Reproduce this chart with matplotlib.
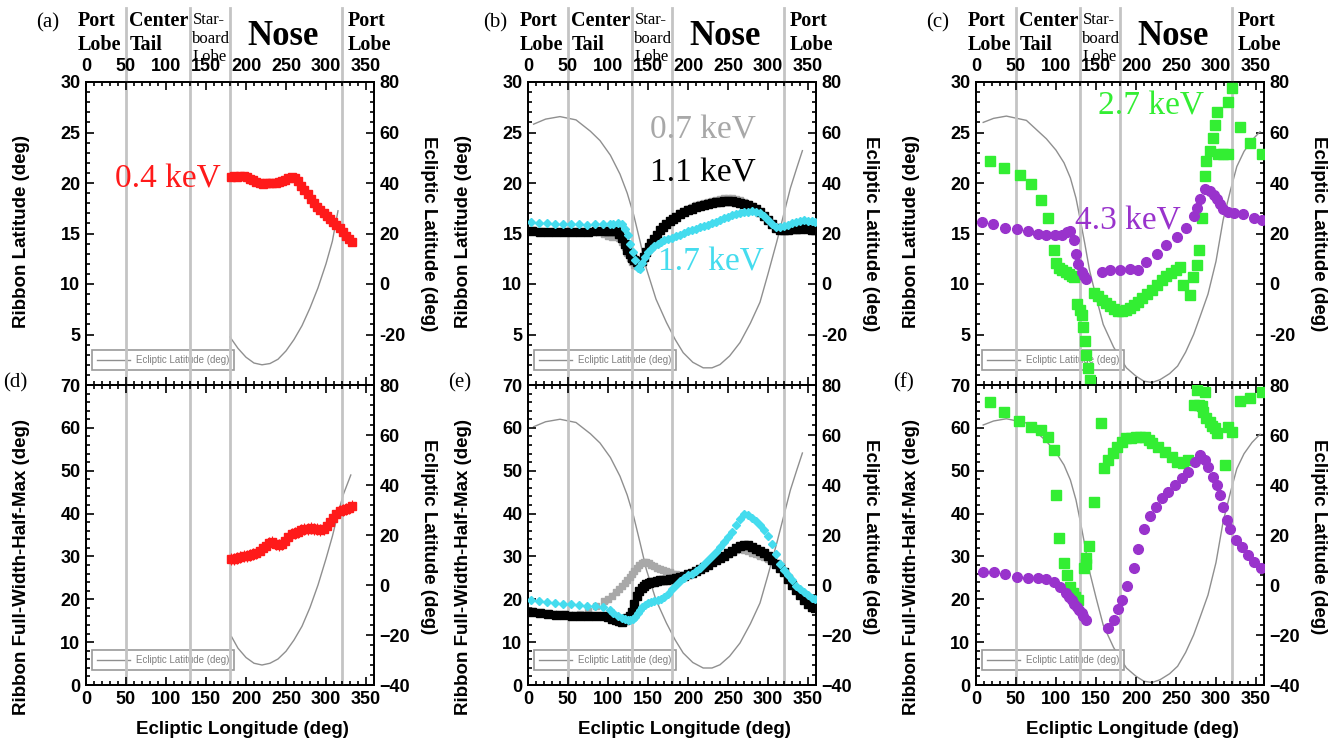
import matplotlib
matplotlib.use("Agg")
import matplotlib.pyplot as plt
from matplotlib.ticker import MultipleLocator, FuncFormatter

plt.rcParams['font.family'] = 'Liberation Sans'
plt.rcParams['font.weight'] = 'bold'

W, H = 1338, 743

# region boundaries in ecliptic longitude (deg)
boundaries = [50, 130, 180, 320]

# ecliptic latitude of the ribbon centre (right axis)
ecl_lon_a = [180, 190, 200, 210, 220, 230, 240, 250, 260, 270, 280, 290, 300, 308, 315]
ecl_lat_a = [-21, -25.5, -29, -31.3, -32, -31.5, -29.8, -26.5, -22, -16.5, -9.5, -1.5, 8, 17, 29]
ecl_lon_d = [182, 190, 200, 210, 220, 230, 240, 250, 260, 270, 280, 290, 300, 308, 315, 322, 331]
ecl_lat_d = [-20.7, -25.3, -29, -31.3, -32, -31.3, -29.6, -26.5, -22, -16.5, -9, 0, 10.5, 19.5, 28.7, 36.5, 44]
ecl_lon_b = [7, 22, 40, 60, 78, 90, 103, 115, 124, 132, 140, 148, 160, 173, 184, 194, 206, 219,
             230, 240, 252, 265, 278, 290, 300, 311, 320, 328, 336, 343]
ecl_lat_b = [63.3, 65.3, 66.3, 65.0, 60.5, 56.8, 51, 43.5, 36, 27.5, 17, 6.1, -6, -15.2, -22, -27.2,
             -31, -33.2, -33.2, -31.9, -28.5, -23.2, -15.5, -7.2, 4, 16.8, 28, 38, 46, 52.8]
ecl_lon_c = [9, 22, 38, 63, 88, 100, 110, 118, 125, 130, 136, 142, 150, 159, 172, 188, 200, 210,
             220, 230, 242, 252, 262, 272, 280, 290, 300, 309, 318, 326, 335, 345, 355]
ecl_lat_c = [64, 65.6, 66.5, 64.8, 57.5, 53, 48, 42, 34, 26, 16, 5.3, -5, -16, -25, -33.2, -36.5,
             -38.5, -39, -37.9, -35.5, -32.5, -27, -20, -13, -4, 9, 25.5, 37, 46.5, 52.5, 57, 60.3]

# 0.4 keV
lon_04 = [181, 185, 189, 193, 197, 201, 205, 209, 213, 217, 221, 225, 229, 233, 237, 241, 245, 249,
          253, 257, 261, 265, 269, 273, 277, 281, 285, 289, 293, 297, 301, 305, 309, 313, 317, 321,
          325, 329, 333]
lat_04 = [20.6, 20.7, 20.6, 20.7, 20.7, 20.6, 20.4, 20.3, 20.1, 20.0, 19.9, 20.0, 20.0, 20.0, 20.0,
          20.1, 20.2, 20.3, 20.5, 20.6, 20.5, 20.2, 19.7, 19.3, 18.9, 18.4, 18.0, 17.6, 17.3, 17.0,
          16.7, 16.4, 16.1, 15.8, 15.5, 15.1, 14.8, 14.5, 14.2]
fw_04 = [29.3, 29.4, 29.6, 29.9, 30.0, 30.1, 30.3, 30.6, 30.8, 31.3, 31.9, 32.5, 33.1, 33.3, 33.0,
         32.7, 32.9, 33.6, 34.5, 35.2, 35.5, 35.8, 36.1, 36.3, 36.5, 36.6, 36.5, 36.3, 36.2, 36.4,
         37.2, 38.1, 39.0, 39.9, 40.5, 40.8, 41.0, 41.4, 41.8]

# 0.7 and 1.1 keV
lon_11 = [5, 15, 25, 35, 45, 55, 65, 75, 85, 95, 100, 105, 110, 114, 118, 121, 124, 127, 130,
          133, 136, 139, 142, 145, 148, 151, 154, 157, 161, 165, 169, 173, 177, 181, 185, 190, 195,
          200, 205, 210, 215, 220, 225, 230, 235, 240, 245, 250, 255, 260, 265, 270, 275, 280, 285,
          290, 295, 300, 305, 310, 315, 320, 325, 330, 335, 340, 345, 350, 355, 359]
lat_11 = [15.2, 15.15, 15.1, 15.1, 15.1, 15.1, 15.1, 15.15, 15.2, 15.2, 15.2, 15.2, 15.2,
          15.0, 14.6, 14.0, 13.4, 13.0, 12.6, 12.4, 12.2, 12.1, 12.3, 12.7, 13.2, 13.7, 14.1, 14.5,
          14.9, 15.3, 15.6, 15.9, 16.2, 16.4, 16.6, 16.9, 17.1, 17.3, 17.45, 17.6, 17.7, 17.8, 17.9,
          18.0, 18.1, 18.15, 18.2, 18.2, 18.2, 18.15, 18.05, 17.95, 17.8, 17.65, 17.4, 17.1, 16.7,
          16.3, 15.9, 15.5, 15.35, 15.3, 15.35, 15.4, 15.4, 15.45, 15.5, 15.4, 15.3, 15.3]
lat_07 = [15.3, 15.2, 15.1, 15.1, 15.1, 15.1, 15.1, 15.1, 15.1, 15.0, 14.8, 14.7, 14.8,
          14.6, 14.2, 13.7, 13.1, 12.6, 12.2, 11.9, 11.8, 11.9, 12.2, 12.7, 13.2, 13.7, 14.1, 14.5,
          14.9, 15.3, 15.6, 15.9, 16.2, 16.4, 16.7, 17.0, 17.2, 17.4, 17.6, 17.8, 17.9, 18.0, 18.1,
          18.25, 18.35, 18.45, 18.5, 18.5, 18.5, 18.4, 18.3, 18.15, 17.95, 17.75, 17.45, 17.1, 16.7,
          16.3, 15.9, 15.5, 15.35, 15.3, 15.35, 15.4, 15.4, 15.45, 15.5, 15.4, 15.3, 15.3]
fw_11 = [17.1, 16.8, 16.6, 16.4, 16.3, 16.2, 16.1, 16.0, 16.0, 16.0, 15.8, 15.5, 15.2,
         14.9, 14.8, 15.2, 15.6, 16.0, 17.0, 19.0, 20.8, 21.9, 22.6, 23.2, 23.6, 23.9, 24.0, 24.1,
         24.3, 24.4, 24.5, 24.6, 24.7, 24.8, 25.0, 25.3, 25.5, 25.8, 26.1, 26.6, 27.1, 27.6, 28.1,
         28.6, 29.1, 29.6, 30.2, 30.7, 31.3, 32.0, 32.5, 32.7, 32.6, 32.2, 31.8, 31.3, 30.8, 30.0,
         29.2, 28.3, 27.3, 26.3, 24.8, 23.3, 22.1, 21.0, 19.9, 18.9, 18.2, 17.9]
fw_07 = [17.3, 17.0, 16.8, 16.6, 16.5, 16.4, 16.5, 17.2, 18.4, 19.6, 20.0, 20.8, 21.8,
         22.5, 23.2, 23.8, 24.5, 25.2, 25.8, 26.5, 27.3, 28.0, 28.4, 28.6, 28.7, 28.4, 28.0, 27.7,
         27.4, 27.1, 26.8, 26.5, 26.3, 26.0, 25.8, 25.6, 25.6, 25.8, 26.1, 26.6, 27.1, 27.6, 28.1,
         28.6, 29.1, 29.6, 30.1, 30.5, 31.0, 31.5, 31.8, 31.5, 31.3, 30.9, 30.5, 30.2, 29.8, 29.3,
         29.0, 28.2, 27.3, 26.3, 24.8, 23.3, 22.1, 21.0, 19.9, 18.9, 18.2, 17.9]

# 1.7 keV
lon_17 = [4, 14, 24, 34, 44, 54, 64, 74, 84, 94, 102, 106, 112, 117, 121, 125,
          128, 131, 134, 137, 140, 143, 146, 150, 154, 158, 162, 166, 170, 175, 180, 185, 190, 195,
          200, 205, 210, 215, 220, 225, 230, 235, 240, 245, 250, 255, 260, 265, 270, 275, 280, 285,
          290, 295, 300, 305, 310, 315, 320, 325, 330, 335, 340, 345, 350, 355, 359]
lat_17 = [16.1, 16.0, 16.0, 15.95, 15.9, 15.9, 15.9, 15.85, 15.9, 15.9, 15.95, 15.95, 16.0, 15.9,
          15.4, 14.9, 14.0, 13.2, 12.4, 11.6, 11.5, 12.1, 12.7, 13.2,
          13.5, 13.8, 14.0, 14.2, 14.35, 14.5, 14.6, 14.75, 14.9, 15.05, 15.2, 15.3, 15.45, 15.6,
          15.75, 15.85, 16.0, 16.15, 16.35, 16.5, 16.65, 16.8, 16.9, 17.0, 17.1, 17.15, 17.2, 17.15,
          17.0, 16.7, 16.3, 15.9, 15.65, 15.6, 15.7, 15.85, 16.0, 16.15, 16.25, 16.3, 16.25, 16.2, 16.15]
fw_17 = [19.9, 19.6, 19.3, 19.1, 18.9, 18.8, 18.6, 18.5, 18.5, 18.1, 17.6, 16.9, 16.2, 15.6,
         15.3, 15.2, 15.1, 15.3, 15.9, 16.8, 17.6, 18.2, 18.7, 19.1,
         19.4, 19.7, 19.9, 20.1, 20.5, 21.3, 22.3, 23.3, 24.2, 25.0, 25.6, 26.0, 26.6, 27.4, 28.3,
         29.2, 30.0, 31.0, 32.1, 33.3, 34.5, 35.8, 37.3, 38.8, 39.8, 39.6, 39.0, 38.3, 37.3, 36.2,
         34.8, 32.8, 30.6, 28.3, 26.8, 25.6, 24.4, 23.2, 22.4, 21.6, 20.9, 20.3, 20.0]

# 2.7 keV
lon_27_lat = [17, 35, 55, 69, 81, 90, 97, 100, 104, 108, 112, 116, 120, 123, 126, 130, 132, 134, 136,
              138, 140, 142, 147, 152, 157, 162, 167, 172, 177, 182, 187, 192, 197, 202, 208, 214,
              220, 226, 232, 238, 244, 250, 255, 259, 267, 271, 276, 279, 283, 286, 288, 292, 296,
              299, 301, 303, 309, 315, 315, 320, 330, 342, 358]
lat_27 = [22.2, 21.5, 20.8, 19.9, 18.3, 16.5, 13.4, 12.1, 11.6, 11.4, 11.2, 11.0, 10.8, 10.7, 8.0,
          7.4, 6.9, 5.7, 4.4, 3.0, 1.7, 0.5, 9.1, 8.8, 8.4, 8.1, 7.8, 7.5, 7.35, 7.3, 7.4, 7.6, 7.9,
          8.2, 8.6, 9.0, 9.4, 9.9, 10.35, 10.8, 11.1, 11.4, 11.7, 9.9, 8.9, 10.7, 11.9, 13.4, 16.5,
          20.7, 22.2, 23.2, 24.5, 25.7, 27.0, 22.9, 22.9, 22.9, 28.0, 29.4, 25.5, 24.0, 22.9]
lon_27_fw = [17, 35, 54, 69, 81, 90, 97, 100, 104, 110, 114, 118, 121, 124, 127, 135, 137, 138, 141,
             147, 156, 160, 165, 171, 176, 182, 188, 194, 200, 205, 211, 216, 220, 228, 236, 245, 251,
             259, 265, 272, 276, 279, 282, 284, 286, 288, 292, 295, 299, 301, 311, 315, 320, 330, 342, 358]
fw_27 = [66.0, 63.6, 61.6, 60.3, 59.5, 57.9, 54.8, 44.3, 34.4, 28.4, 25.7, 22.9, 21.5, 20.6, 19.8,
         27.2, 28.3, 29.6, 32.5, 42.6, 61.1, 50.6, 52.5, 54.1, 55.6, 56.8, 57.6, 57.6, 57.8, 57.9,
         57.9, 57.2, 56.4, 55.6, 54.4, 53.3, 52.1, 51.7, 52.5, 65.3, 68.8, 65.3, 65.0, 63.8, 68.4,
         62.2, 61.4, 60.5, 59.9, 58.7, 51.3, 60.3, 59.1, 66.3, 67.0, 68.3]

# 4.3 keV
lon_43_lat = [8, 21, 36, 51, 65, 78, 88, 99, 107, 114, 118, 122, 125, 128, 132, 135, 138, 157, 167,
              180, 192, 203, 213, 226, 238, 251, 263, 272, 276, 280, 286, 292, 297, 301, 305, 309,
              315, 322, 334, 347, 358]
lat_43 = [16.1, 15.9, 15.5, 15.4, 15.2, 15.0, 14.9, 14.9, 14.9, 15.1, 15.2, 14.4, 13.0, 12.0, 11.2,
          10.8, 10.5, 11.2, 11.4, 11.4, 11.5, 11.4, 12.2, 13.0, 13.9, 14.7, 15.5, 16.7, 17.5, 18.4,
          19.4, 19.2, 18.8, 18.4, 17.9, 17.4, 17.1, 17.0, 16.9, 16.5, 16.3]
lon_43_fw = [9, 22, 36, 51, 65, 78, 88, 97, 105, 113, 116, 120, 122, 126, 129, 132, 134, 138, 165,
             172, 178, 183, 189, 197, 203, 210, 218, 225, 232, 240, 249, 257, 265, 274, 280, 286,
             290, 296, 301, 305, 309, 314, 318, 325, 332, 340, 348, 356]
fw_43 = [26.4, 26.4, 25.8, 25.3, 25.0, 24.9, 24.7, 24.1, 22.9, 21.4, 20.6, 19.8, 19.0, 18.3, 17.4,
         16.7, 16.0, 15.2, 13.2, 15.2, 17.7, 19.8, 23.1, 27.2, 31.7, 36.3, 39.4, 41.5, 43.6, 45.1,
         46.7, 48.2, 49.8, 52.1, 53.7, 52.5, 50.9, 48.6, 46.7, 44.3, 41.6, 38.5, 36.3, 33.8, 32.3,
         30.3, 28.8, 27.2]

RED = '#ff1a1a'
GREY = '#a8a8a8'
CYAN = '#45dcee'
GREEN = '#33ee33'
PURPLE = '#9933cc'
LINE = '#8f8f8f'
VLINE = '#c4c4c4'

fig = plt.figure(figsize=(W / 100, H / 100), dpi=100)


def add_px_axes(left, top, width, height):
    return fig.add_axes([left / W, 1 - (top + height) / H, width / W, height / H])


def hide_value(v):
    return FuncFormatter(lambda x, pos: '' if abs(x - v) < 1e-6 else f'{x:g}')


def setup_panel(ax, top_row):
    ax2 = ax.twinx()
    ax.set_zorder(ax2.get_zorder() + 1)
    ax.patch.set_visible(False)
    ax.set_xlim(0, 360)
    ax.xaxis.set_major_locator(MultipleLocator(50))
    ax.xaxis.set_minor_locator(MultipleLocator(10))
    ax2.set_ylim(-40, 80)
    ax2.yaxis.set_major_locator(MultipleLocator(20))
    ax2.yaxis.set_minor_locator(MultipleLocator(4))
    if top_row:
        ax.set_ylim(0, 30)
        ax.yaxis.set_major_locator(MultipleLocator(5))
        ax.yaxis.set_minor_locator(MultipleLocator(1))
        ax.yaxis.set_major_formatter(hide_value(0))
        ax2.yaxis.set_major_formatter(hide_value(-40))
        ax.tick_params(axis='x', which='both', labeltop=True, labelbottom=False, pad=5)
    else:
        ax.set_ylim(0, 70)
        ax.yaxis.set_major_locator(MultipleLocator(10))
        ax.yaxis.set_minor_locator(MultipleLocator(2))
        ax.tick_params(axis='x', which='both', labeltop=False, labelbottom=True, pad=4)
    ax.tick_params(which='both', direction='in', top=True, bottom=True, left=True, right=False,
                   labelsize=13, width=1.2)
    ax.tick_params(axis='y', pad=4)
    ax.tick_params(which='major', length=6)
    ax.tick_params(which='minor', length=3)
    ax2.tick_params(which='both', direction='in', labelsize=13, width=1.2, pad=4)
    ax2.tick_params(which='major', length=6)
    ax2.tick_params(which='minor', length=3)
    for a in (ax, ax2):
        for s in a.spines.values():
            s.set_linewidth(1.3)
    for b in boundaries:
        if top_row:
            ax.axvline(b, ymin=0, ymax=1.245, color=VLINE, lw=2, zorder=0, clip_on=False)
        else:
            ax.axvline(b, color=VLINE, lw=2, zorder=0)
    return ax2


def ecliptic(ax2, lon, lat):
    ax2.plot(lon, lat, color=LINE, lw=1, label='Ecliptic Latitude (deg)')
    leg = ax2.legend(loc='lower left', bbox_to_anchor=(0.021, 0.05), borderaxespad=0,
                     prop=dict(family='Liberation Sans', size=7, weight='normal'),
                     fancybox=False, edgecolor='#999999', framealpha=1, handlelength=3.4,
                     handletextpad=0.6, borderpad=0.5, labelcolor='#808080')
    leg.get_frame().set_linewidth(1.2)


def series(ax, lon, val, color, marker, ms, err):
    ax.errorbar(lon, val, yerr=err, fmt=marker, ms=ms, color=color, mec=color,
                ecolor=color, elinewidth=0.8, capsize=0, zorder=3)


def region_labels(ax):
    tr = ax.get_xaxis_transform()
    serif = 'Liberation Serif'
    ax.text(-10, 1.162, 'Port\nLobe', transform=tr, ha='left', va='center', family=serif,
            fontsize=14.5, fontweight='bold', linespacing=1.25)
    ax.text(54, 1.162, 'Center\nTail', transform=tr, ha='left', va='center', family=serif,
            fontsize=14.5, fontweight='bold', linespacing=1.25)
    ax.text(133, 1.143, 'Star-\nboard\nLobe', transform=tr, ha='left', va='center', family=serif,
            fontsize=12, fontweight='normal', linespacing=1.2)
    ax.text(246, 1.122, 'Nose', transform=tr, ha='center', va='baseline', family=serif,
            fontsize=25, fontweight='bold')
    ax.text(327, 1.162, 'Port\nLobe', transform=tr, ha='left', va='center', family=serif,
            fontsize=14.5, fontweight='bold', linespacing=1.25)


def fig_text(x, y, s, **kw):
    fig.text(x / W, 1 - y / H, s, **kw)


lefts = [86, 528, 976]
axes_top, axes_bot = [], []
for i, left in enumerate(lefts):
    at = add_px_axes(left, 82, 288, 303)
    ab = add_px_axes(left, 385, 288, 300)
    at2 = setup_panel(at, True)
    ab2 = setup_panel(ab, False)
    region_labels(at)
    axes_top.append((at, at2))
    axes_bot.append((ab, ab2))
    fig_text(left - 64, 232, 'Ribbon Latitude (deg)', rotation=90, ha='center', va='center',
             fontsize=13.5)
    fig_text(left + 343, 234, 'Ecliptic Latitude (deg)', rotation=270, ha='center', va='center',
             fontsize=13.5)
    fig_text(left - 64, 567, 'Ribbon Full-Width-Half-Max (deg)', rotation=90, ha='center',
             va='center', fontsize=13.5)
    fig_text(left + 343, 537, 'Ecliptic Latitude (deg)', rotation=270, ha='center', va='center',
             fontsize=13.5)
    fig_text(left + 156, 729, 'Ecliptic Longitude (deg)', ha='center', va='center', fontsize=13.5)

serif_kw = dict(family='Liberation Serif', fontweight='normal')
for lab, x, y in [('(a)', 48, 23), ('(b)', 495, 23), ('(c)', 938, 23),
                  ('(d)', 15, 383), ('(e)', 460, 383), ('(f)', 904, 383)]:
    fig_text(x, y, lab, ha='center', va='center', fontsize=15, **serif_kw)

# (a) / (d)
at, at2 = axes_top[0]
ab, ab2 = axes_bot[0]
ecliptic(at2, ecl_lon_a, ecl_lat_a)
ecliptic(ab2, ecl_lon_d, ecl_lat_d)
series(at, lon_04, lat_04, RED, 's', 5.5, 0.4)
series(ab, lon_04, fw_04, RED, 's', 6, 1.4)
at.text(36, 20.4, '0.4 keV', color=RED, fontsize=24, ha='left', va='center', **serif_kw)

# (b) / (e)
at, at2 = axes_top[1]
ab, ab2 = axes_bot[1]
ecliptic(at2, ecl_lon_b, ecl_lat_b)
ecliptic(ab2, ecl_lon_b, ecl_lat_b)
series(at, lon_11, lat_07, GREY, 's', 5, 0.3)
series(at, lon_11, lat_11, 'black', 's', 5.5, 0.25)
series(at, lon_17, lat_17, CYAN, 'D', 4, 0.15)
series(ab, lon_11, fw_07, GREY, 's', 5, 0.8)
series(ab, lon_11, fw_11, 'black', 's', 5.5, 0.5)
series(ab, lon_17, fw_17, CYAN, 'D', 4, 0.3)
at.text(152, 25.2, '0.7 keV', color=GREY, fontsize=24, ha='left', va='center', **serif_kw)
at.text(152, 21.0, '1.1 keV', color='black', fontsize=24, ha='left', va='center', **serif_kw)
at.text(162, 12.2, '1.7 keV', color=CYAN, fontsize=24, ha='left', va='center', **serif_kw)

# (c) / (f)
at, at2 = axes_top[2]
ab, ab2 = axes_bot[2]
ecliptic(at2, ecl_lon_c, ecl_lat_c)
ecliptic(ab2, ecl_lon_c, ecl_lat_c)
series(at, lon_27_lat, lat_27, GREEN, 's', 6.5, 0.25)
series(at, lon_43_lat, lat_43, PURPLE, 'o', 7, 0.15)
series(ab, lon_27_fw, fw_27, GREEN, 's', 6.5, 1.0)
series(ab, lon_43_fw, fw_43, PURPLE, 'o', 7, 0.4)
at.text(152, 27.6, '2.7 keV', color=GREEN, fontsize=24, ha='left', va='center', **serif_kw)
at.text(124, 16.2, '4.3 keV', color=PURPLE, fontsize=24, ha='left', va='center', **serif_kw)

fig.savefig('out.png', dpi=100, facecolor='white')
